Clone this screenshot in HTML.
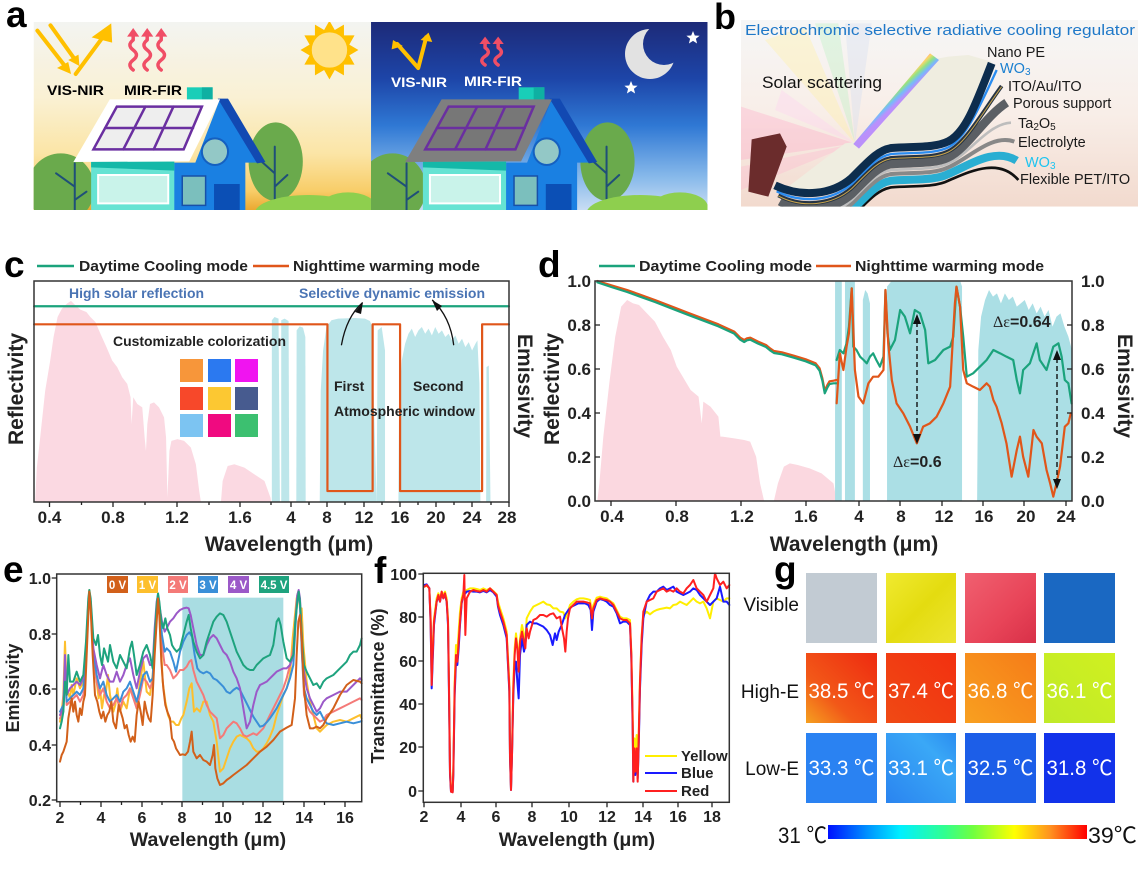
<!DOCTYPE html>
<html><head><meta charset="utf-8">
<style>
html,body{margin:0;padding:0;background:#fff;}
svg{display:block;font-family:"Liberation Sans",Arial,"Noto Sans CJK SC",sans-serif;}
.n{vector-effect:non-scaling-stroke;fill:none;stroke-linejoin:round;stroke-linecap:round;}
.s{vector-effect:non-scaling-stroke;}
.b{font-weight:bold;}
.tk{stroke:#222;stroke-width:1.3;fill:none;}
</style></head><body>
<svg xmlns="http://www.w3.org/2000/svg" width="1138" height="873" viewBox="0 0 1138 873">
<defs>
<linearGradient id="skyL" x1="0" y1="0" x2="0" y2="1">
<stop offset="0" stop-color="#f3f4f1"/><stop offset="0.4" stop-color="#faf1d4"/><stop offset="0.7" stop-color="#fbe5a6"/><stop offset="0.9" stop-color="#f8cd68"/><stop offset="1" stop-color="#eaa830"/></linearGradient>
<linearGradient id="skyR" x1="0" y1="0" x2="0" y2="1">
<stop offset="0" stop-color="#1d2a78"/><stop offset="0.3" stop-color="#1d45a8"/><stop offset="0.55" stop-color="#2f78d4"/><stop offset="0.82" stop-color="#86b8ea"/><stop offset="1" stop-color="#c8ddf3"/></linearGradient>
<linearGradient id="bgB" x1="0" y1="0" x2="0" y2="1">
<stop offset="0" stop-color="#f6f6f6"/><stop offset="0.5" stop-color="#f8eee8"/><stop offset="1" stop-color="#f2dace"/></linearGradient>
<linearGradient id="rb" gradientUnits="userSpaceOnUse" x1="585" y1="150" x2="618" y2="185">
<stop offset="0" stop-color="#ff6a80"/><stop offset="0.25" stop-color="#ffd050"/><stop offset="0.5" stop-color="#80e070"/><stop offset="0.75" stop-color="#60b0ff"/><stop offset="1" stop-color="#b080ff"/></linearGradient>
<linearGradient id="cbar" x1="0" y1="0" x2="1" y2="0">
<stop offset="0" stop-color="#0010ff"/><stop offset="0.15" stop-color="#0090ff"/><stop offset="0.28" stop-color="#00f0ff"/><stop offset="0.45" stop-color="#30ff90"/><stop offset="0.56" stop-color="#70ff40"/><stop offset="0.72" stop-color="#ffff00"/><stop offset="0.86" stop-color="#ff9020"/><stop offset="1" stop-color="#ff0000"/></linearGradient>
<linearGradient id="h1" x1="0" y1="1" x2="1" y2="0"><stop offset="0" stop-color="#f5a020"/><stop offset="0.35" stop-color="#f25818"/><stop offset="1" stop-color="#ee2a10"/></linearGradient>
<linearGradient id="h2" x1="0" y1="1" x2="1" y2="0"><stop offset="0" stop-color="#f04a14"/><stop offset="1" stop-color="#f23010"/></linearGradient>
<linearGradient id="h3" x1="0" y1="1" x2="1" y2="0"><stop offset="0" stop-color="#f8a020"/><stop offset="1" stop-color="#f67c18"/></linearGradient>
<linearGradient id="h4" x1="0" y1="1" x2="1" y2="0"><stop offset="0" stop-color="#c0ea28"/><stop offset="1" stop-color="#d0f020"/></linearGradient>
<linearGradient id="l2" x1="0" y1="1" x2="1" y2="0"><stop offset="0" stop-color="#2a84f0"/><stop offset="0.7" stop-color="#3aa8f6"/><stop offset="1" stop-color="#2a8cf0"/></linearGradient>
<linearGradient id="v2" x1="0" y1="0" x2="1" y2="1"><stop offset="0" stop-color="#f0ea30"/><stop offset="0.5" stop-color="#e4dc10"/><stop offset="1" stop-color="#ece430"/></linearGradient>
<linearGradient id="v3" x1="0" y1="0" x2="1" y2="1"><stop offset="0" stop-color="#f06070"/><stop offset="0.6" stop-color="#e84458"/><stop offset="1" stop-color="#d83048"/></linearGradient>
<mask id="moonm"><rect x="600" y="20" width="120" height="80" fill="#fff"/><circle cx="664" cy="44" r="21" fill="#000"/></mask>
</defs>
<rect width="1138" height="873" fill="#fff"/>

<!-- ============ PANEL A ============ -->
<text x="6" y="27" font-size="37" class="b">a</text>
<g transform="scale(0.4673,0.33333)">
<clipPath id="clA"><rect x="72" y="66" width="722" height="564"/></clipPath>
<clipPath id="clB"><rect x="794" y="66" width="720" height="564"/></clipPath>
<g clip-path="url(#clA)">
<rect x="72" y="66" width="722" height="564" fill="url(#skyL)"/>
<polygon points="767,150 747.5,166 758.7,194 736.1,193.8 736,226.2 716.4,209.9 705,238 693.6,209.9 674,226.2 673.9,193.8 651.3,194 662.5,166 643,150 662.5,134 651.3,106 673.9,106.2 674,73.8 693.6,90.1 705,62 716.4,90.1 736,73.8 736.1,106.2 758.7,106 747.5,134" fill="#ffc000"/>
<ellipse cx="705" cy="150" rx="40" ry="56" fill="#ffe28a" stroke="#ffc000" stroke-width="2" class="s"/>
<g id="sceneL">
<ellipse cx="130" cy="565" rx="72" ry="105" fill="#6aaa4c"/>
<path class="n" stroke="#1f4f78" stroke-width="2" d="M160,630 L160,490 M160,560 L120,520 M160,600 L185,575"/>
<ellipse cx="590" cy="485" rx="58" ry="118" fill="#6aaa4c"/>
<path class="n" stroke="#1f4f78" stroke-width="2" d="M588,630 L588,440 M588,520 L560,485 M588,560 L615,525"/>
<rect x="400" y="262" width="55" height="40" fill="#19ceb8"/>
<rect x="432" y="262" width="23" height="40" fill="#0fb0a2"/>
<polygon points="471,296 555,488 525,488 525,632 372,632 372,488 418,488" fill="#1a80e2"/>
<polygon points="466,296 488,296 568,486 550,490" fill="#1249b2"/>
<rect x="195" y="485" width="178" height="147" fill="#66e3d3"/>
<polygon points="195,485 373,485 373,512 195,502" fill="#14b8a8"/>
<rect x="210" y="525" width="150" height="85" fill="#c9f3ea" stroke="#fff" stroke-width="2" class="s"/>
<rect x="390" y="528" width="50" height="88" fill="#7bbfbd" stroke="#1850a8" stroke-width="1.5" class="s"/>
<rect x="458" y="552" width="55" height="80" fill="#0b4fb5"/>
<ellipse cx="460" cy="455" rx="28" ry="40" fill="#93c8c6" stroke="#1560c0" stroke-width="2" class="s"/>
<ellipse cx="660" cy="640" rx="115" ry="55" fill="#8ecf4e"/>
<ellipse cx="745" cy="622" rx="60" ry="45" fill="#8ecf4e"/>
</g>
<polygon points="235,298 471,298 405,484 157,486" fill="#ffffff"/>
<polygon points="250,320 432,320 393,448 200,448" fill="#eeeeee" stroke="#6a2fa0" stroke-width="2.5" class="s"/>
<path class="n" stroke="#6a2fa0" stroke-width="2.5" d="M311,320 L264,448 M371,320 L329,448 M225,384 L413,384"/>
<path class="n" stroke="#ffc000" stroke-width="4" d="M80,92 L140,200 M108,76 L160,178 M162,222 L222,108"/>
<polygon points="152,222 122,204 146,186" fill="#ffc000"/>
<polygon points="170,198 146,180 168,164" fill="#ffc000"/>
<polygon points="238,70 196,112 240,128" fill="#ffc000"/>
<path class="n" stroke="#f04e66" stroke-width="3.5" d="M285,210 q-14,-15 0,-30 q14,-15 0,-30 q-14,-15 0,-30 L285,105 M315,210 q-14,-15 0,-30 q14,-15 0,-30 q-14,-15 0,-30 L315,105 M345,210 q-14,-15 0,-30 q14,-15 0,-30 q-14,-15 0,-30 L345,105"/>
<polygon points="285,84 272,110 298,110" fill="#f04e66"/>
<polygon points="315,84 302,110 328,110" fill="#f04e66"/>
<polygon points="345,84 332,110 358,110" fill="#f04e66"/>
</g>
<g clip-path="url(#clB)">
<rect x="794" y="66" width="720" height="564" fill="url(#skyR)"/>
<use href="#sceneL" transform="translate(710,0)"/>
<polygon points="945,298 1181,298 1115,484 867,486" fill="#7f7f7f"/>
<polygon points="960,320 1142,320 1103,448 910,448" fill="#777777" stroke="#6a2fa0" stroke-width="2.5" class="s"/>
<path class="n" stroke="#6a2fa0" stroke-width="2.5" d="M1021,320 L974,448 M1081,320 L1039,448 M935,384 L1123,384"/>
<path class="n" stroke="#ffc000" stroke-width="4" d="M850,132 L895,204 L912,112"/>
<polygon points="841,120 838,148 862,138" fill="#ffc000"/>
<polygon points="917,98 900,120 925,126" fill="#ffc000"/>
<path class="n" stroke="#f04e66" stroke-width="3.5" d="M1038,195 q-14,-13 0,-26 q14,-13 0,-26 L1038,128 M1066,195 q-14,-13 0,-26 q14,-13 0,-26 L1066,128"/>
<polygon points="1038,110 1026,132 1050,132" fill="#f04e66"/>
<polygon points="1066,110 1054,132 1078,132" fill="#f04e66"/>
</g>
</g>
<text x="47" y="95" font-size="14" class="b" textLength="57" lengthAdjust="spacingAndGlyphs">VIS-NIR</text>
<text x="124" y="95" font-size="14" class="b" textLength="58" lengthAdjust="spacingAndGlyphs">MIR-FIR</text>
<text x="391" y="87" font-size="14" class="b" fill="#fff" textLength="56" lengthAdjust="spacingAndGlyphs">VIS-NIR</text>
<text x="464" y="86" font-size="14" class="b" fill="#fff" textLength="58" lengthAdjust="spacingAndGlyphs">MIR-FIR</text>
<circle cx="650" cy="54" r="25" fill="#e2e2e2" mask="url(#moonm)"/>
<polygon points="693,31 694.8,35.5 699.6,35.8 695.9,38.8 697.1,43.5 693,40.9 688.9,43.5 690.1,38.8 686.4,35.8 691.2,35.5" fill="#fff"/>
<polygon points="631,81 632.8,85.5 637.6,85.8 633.9,88.8 635.1,93.5 631,90.9 626.9,93.5 628.1,88.8 624.4,85.8 629.2,85.5" fill="#fff"/>

<!-- ============ PANEL B ============ -->
<text x="714" y="29" font-size="36" class="b">b</text>
<g transform="translate(735,0) scale(0.33333)">
<clipPath id="clC"><rect x="18" y="60" width="1200" height="560"/></clipPath>
<g clip-path="url(#clC)">
<rect x="18" y="60" width="1200" height="560" fill="url(#bgB)"/>
<g opacity="0.35">
<polygon points="360,430 18,320 18,480" fill="#ffa8c8"/>
<polygon points="360,430 18,500 18,570" fill="#ffb8d0"/>
<polygon points="360,430 90,120 210,80" fill="#fff0a0"/>
<polygon points="360,430 240,70 310,70" fill="#b8f0c0"/>
<polygon points="360,430 330,70 410,70" fill="#d0dcf0"/>
<polygon points="360,430 120,330 140,270" fill="#ffd0f0"/>
</g>
<polygon points="160,560 330,430 400,420 460,350 540,240 585,180 640,170 700,165 770,185 720,330 640,430 470,450 350,540 200,590" fill="#efede0"/>
<polygon points="355,432 585,160 612,180 372,446" fill="url(#rb)" opacity="0.85"/>
<polygon points="50,418 135,400 155,440 100,590 40,575" fill="#6b2c2c"/>
<g fill="none" stroke-linejoin="round">
<path stroke="#111" stroke-width="8" d="M155,674 C200,711 290,704 350,652 C400,602 430,567 470,562 C540,557 600,562 640,542 C700,517 790,470 850,540"/>
<path stroke="#2aaed2" stroke-width="24" d="M150,654 C200,691 290,684 350,632 C400,582 430,547 470,542 C540,537 600,542 640,522 C700,497 780,440 845,482"/>
<path stroke="#888" stroke-width="12" d="M145,634 C200,671 290,664 350,612 C400,562 430,527 470,522 C540,517 600,522 640,502 C700,477 770,400 838,425"/>
<path stroke="#bdbdbd" stroke-width="8" d="M140,622 C200,659 290,652 350,600 C400,550 430,515 470,510 C540,505 600,510 640,490 C700,465 760,370 828,368"/>
<path stroke="#5b5f64" stroke-width="26" d="M135,604 C200,641 290,634 350,582 C400,532 430,497 470,492 C540,487 600,492 640,472 C695,447 750,350 815,308"/>
<path stroke="#263444" stroke-width="12" d="M130,586 C200,623 290,616 350,564 C400,514 430,479 470,474 C540,469 600,474 640,454 C692,429 740,340 800,258"/>
<path stroke="#c8a24a" stroke-width="3" d="M130,588 C200,625 290,618 350,566 C400,516 430,481 470,476 C540,471 600,476 640,456 C692,431 740,342 800,260"/>
<path stroke="#2a8cf0" stroke-width="7" d="M125,574 C200,611 290,604 350,552 C400,502 430,467 470,462 C540,457 600,462 640,442 C690,417 730,330 785,210"/>
<path stroke="#0d2d4d" stroke-width="24" d="M120,556 C200,593 290,586 350,534 C400,484 430,449 470,444 C540,439 600,444 640,424 C690,399 720,320 770,190"/>
</g>
</g>
</g>
<text x="745" y="35" font-size="15" fill="#1f78c8" textLength="390" lengthAdjust="spacingAndGlyphs">Electrochromic selective radiative cooling regulator</text>
<text x="762" y="88" font-size="17" fill="#111" textLength="120" lengthAdjust="spacingAndGlyphs">Solar scattering</text>
<g font-size="14.5" fill="#1a1a1a">
<text x="987" y="57">Nano PE</text>
<text x="1000" y="73" fill="#1a7fd0">WO<tspan font-size="10" dy="2">3</tspan></text>
<text x="1008" y="91">ITO/Au/ITO</text>
<text x="1013" y="108">Porous support</text>
<text x="1018" y="128">Ta<tspan font-size="10" dy="2">2</tspan><tspan dy="-2">O</tspan><tspan font-size="10" dy="2">5</tspan></text>
<text x="1018" y="147">Electrolyte</text>
<text x="1025" y="167" fill="#1ec4f0">WO<tspan font-size="10" dy="2">3</tspan></text>
<text x="1020" y="184">Flexible PET/ITO</text>
</g>

<!-- ============ PANEL C ============ -->
<text x="4" y="277" font-size="37" class="b">c</text>
<line x1="37" y1="266" x2="74" y2="266" stroke="#1ba37c" stroke-width="2.5"/>
<text x="79" y="271" font-size="15" class="b" fill="#222" textLength="169" lengthAdjust="spacingAndGlyphs">Daytime Cooling mode</text>
<line x1="253" y1="266" x2="289" y2="266" stroke="#e0561a" stroke-width="2.5"/>
<text x="293" y="271" font-size="15" class="b" fill="#222" textLength="187" lengthAdjust="spacingAndGlyphs">Nighttime warming mode</text>
<g transform="translate(0,250) scale(0.3348)">
<path fill="#fbd9e2" d="M105,752 L110,650 120,560 135,420 150,330 160,260 172,200 185,175 200,160 212,152 225,165 240,178 258,185 270,200 285,215 300,250 318,290 335,330 350,350 365,380 380,400 390,440 393,520 398,440 410,460 425,470 432,560 436,600 440,520 448,460 460,455 475,470 490,500 496,560 500,740 506,600 512,570 530,565 550,570 570,590 585,640 595,720 600,752 L660,752 665,690 680,645 700,640 730,650 760,670 790,690 808,740 810,752 Z"/>
<g fill="#bde6ea">
<path d="M812,752 L812,210 L820,200 L832,205 L836,752 Z"/>
<path d="M840,752 L840,210 L850,205 L862,212 L864,752 Z"/>
<path d="M885,752 L886,240 L895,228 L905,232 L912,260 L913,752 Z"/>
<path d="M955,752 L958,420 L965,300 L975,230 L990,210 L1010,205 L1060,203 L1090,205 L1105,212 L1112,230 L1115,400 L1125,752 Z"/>
<path d="M1125,752 L1128,240 L1140,230 L1150,300 L1150,752 Z"/>
<path d="M1190,752 L1192,450 L1200,330 L1210,280 L1220,250 L1230,235 L1240,260 L1250,240 L1260,230 L1270,250 L1280,235 L1290,255 L1300,230 L1310,250 L1320,240 L1330,260 L1340,250 L1350,270 L1360,255 L1370,280 L1380,265 L1390,290 L1400,275 L1410,300 L1420,280 L1426,270 L1432,400 L1435,752 Z"/>
<path d="M1452,752 L1453,350 L1460,345 L1465,752 Z"/>
</g>
<path class="n" stroke="#1ba37c" stroke-width="2.2" d="M102,168 L1520,168"/>
<path class="n" stroke="#e0561a" stroke-width="2.2" d="M102,222 L978,222 L978,720 L1113,720 L1113,222 L1195,222 L1195,720 L1440,720 L1440,222 L1520,222"/>
<path class="n" stroke="#111" stroke-width="1.3" d="M1020,283 Q1035,200 1082,158 M1355,283 Q1345,200 1292,150"/>
</g>
<polygon points="363,302 355,312 361,314" fill="#111"/>
<polygon points="432,300 437,311 442,306" fill="#111"/>
<rect x="34" y="281" width="475" height="221" fill="none" stroke="#333" stroke-width="1.5"/>
<text x="69" y="298" font-size="14" class="b" fill="#4a74b4" textLength="135" lengthAdjust="spacingAndGlyphs">High solar reflection</text>
<text x="299" y="298" font-size="14" class="b" fill="#4a74b4" textLength="186" lengthAdjust="spacingAndGlyphs">Selective dynamic emission</text>
<text x="113" y="346" font-size="14" class="b" fill="#222" textLength="173" lengthAdjust="spacingAndGlyphs">Customizable colorization</text>
<text x="334" y="391" font-size="14" class="b" fill="#222">First</text>
<text x="413" y="391" font-size="14" class="b" fill="#222">Second</text>
<text x="334" y="416" font-size="14" class="b" fill="#222" textLength="141" lengthAdjust="spacingAndGlyphs">Atmospheric window</text>
<rect x="180" y="359" width="23" height="23" fill="#f7963a"/><rect x="208" y="359" width="23" height="23" fill="#2b79f0"/><rect x="235" y="359" width="23" height="23" fill="#f014f0"/>
<rect x="180" y="387" width="23" height="23" fill="#f7482a"/><rect x="208" y="387" width="23" height="23" fill="#fcc832"/><rect x="235" y="387" width="23" height="23" fill="#475b8f"/>
<rect x="180" y="414" width="23" height="23" fill="#7cc4f2"/><rect x="208" y="414" width="23" height="23" fill="#f00a80"/><rect x="235" y="414" width="23" height="23" fill="#3cc070"/>
<path class="tk" d="M49.5,502v5 M113,502v5 M177,502v5 M240,502v5 M291,502v5 M327,502v5 M364,502v5 M400,502v5 M436,502v5 M472,502v5 M509,502v5 M81.5,502v3 M145,502v3 M209,502v3 M271,502v3 M309,502v3 M345,502v3 M382,502v3 M418,502v3 M454,502v3 M491,502v3"/>
<g font-size="17" class="b" text-anchor="middle" fill="#222">
<text x="49.5" y="523">0.4</text><text x="113" y="523">0.8</text><text x="177" y="523">1.2</text><text x="240" y="523">1.6</text><text x="291" y="523">4</text><text x="327" y="523">8</text><text x="364" y="523">12</text><text x="400" y="523">16</text><text x="436" y="523">20</text><text x="472" y="523">24</text><text x="507" y="523">28</text>
</g>
<text x="289" y="551" font-size="21" class="b" text-anchor="middle" fill="#222">Wavelength (μm)</text>
<text transform="translate(23,389) rotate(-90)" font-size="21" class="b" text-anchor="middle" fill="#222">Reflectivity</text>
<text transform="translate(518,386) rotate(90)" font-size="21" class="b" text-anchor="middle" fill="#222">Emissivity</text>

<!-- ============ PANEL D ============ -->
<text x="538" y="277" font-size="37" class="b">d</text>
<line x1="599" y1="266" x2="635" y2="266" stroke="#1ba37c" stroke-width="2.5"/>
<text x="639" y="271" font-size="15" class="b" fill="#222" textLength="173" lengthAdjust="spacingAndGlyphs">Daytime Cooling mode</text>
<line x1="816" y1="266" x2="851" y2="266" stroke="#e0561a" stroke-width="2.5"/>
<text x="855" y="271" font-size="15" class="b" fill="#222" textLength="189" lengthAdjust="spacingAndGlyphs">Nighttime warming mode</text>
<g transform="translate(520,250) scale(0.3968,0.33333)">
<path fill="#fbd8e0" d="M195,752 L200,700 210,560 225,400 240,260 255,170 270,150 285,160 300,165 320,190 340,215 360,260 380,300 395,350 410,380 430,420 450,440 458,520 462,455 480,470 500,500 505,560 510,560 540,565 565,570 580,575 595,620 605,700 615,752 L640,752 650,700 665,650 680,640 700,645 730,655 760,670 790,700 798,752 Z"/>
<g fill="#abdfe5">
<path d="M794,752 L794,95 L811,95 L811,752 Z"/>
<path d="M819,752 L819,95 L844,95 L844,752 Z"/>
<path d="M864,752 L864,150 L870,120 L876,130 L882,160 L882,752 Z"/>
<path d="M925,752 L925,110 L935,95 L1110,95 L1114,110 L1114,752 Z"/>
<path d="M1152,752 L1155,300 L1162,200 L1172,150 L1182,120 L1192,140 L1202,130 L1212,160 L1222,130 L1232,150 L1242,140 L1252,170 L1262,160 L1272,150 L1282,180 L1292,160 L1302,190 L1312,170 L1322,200 L1332,180 L1342,230 L1352,200 L1362,190 L1372,230 L1382,260 L1391,300 L1391,752 Z"/>
</g>
<path class="n" stroke="#e0561a" stroke-width="2.2" d="M195,93 L230,106 270,120 300,133 340,150 390,173 420,187 460,205 500,223 540,245 555,263 565,270 572,265 580,263 600,275 620,285 630,295 640,303 660,307 690,317 720,328 745,340 755,355 762,385 768,422 775,404 780,394 790,392 798,390"/>
<path class="n" stroke="#1ba37c" stroke-width="2.2" d="M195,97 L230,111 270,126 300,139 340,156 390,179 420,193 460,211 500,229 540,251 555,269 565,276 572,271 580,269 600,281 620,291 630,301 640,309 660,313 690,323 720,334 745,346 755,362 762,392 768,430 775,412 780,402 790,400 798,400"/>
<path class="n" stroke="#1ba37c" stroke-width="2.2" d="M798,330 L806,300 815,310 823,280 829,230 836,115 840,290 848,300 857,320 866,330 874,340 882,320 890,310 898,330 907,350 916,320 921,120 926,250 932,300 945,270 958,180 970,200 983,250 995,180 1008,190 1021,240 1029,340 1046,330 1067,300 1084,290 1092,260 1100,110 1109,170 1117,260 1126,380 1142,370 1159,350 1176,330 1193,300 1210,310 1226,320 1243,330 1252,390 1260,430 1268,360 1285,340 1302,280 1310,330 1327,360 1344,290 1357,280 1365,320 1373,390 1382,400 1390,460"/>
<path class="n" stroke="#e0561a" stroke-width="2.2" d="M798,460 L806,310 815,360 823,290 829,250 836,115 844,360 853,440 865,460 878,400 890,380 903,380 916,360 921,120 928,280 937,390 949,460 966,490 983,530 1000,580 1016,530 1033,520 1050,500 1067,460 1084,410 1096,160 1100,110 1109,170 1117,360 1126,400 1142,410 1159,420 1176,400 1184,410 1193,450 1201,470 1214,520 1226,580 1239,680 1252,600 1260,560 1268,620 1281,680 1294,540 1302,560 1315,580 1327,660 1336,700 1344,740 1352,700 1361,650 1373,530 1382,520 1388,490"/>
</g>
<path d="M917,322 L917,437 M1057,358 L1057,482" stroke="#111" stroke-width="1.4" stroke-dasharray="5,3"/>
<polygon points="917,314 913,324 921,324" fill="#111"/><polygon points="917,444 913,434 921,434" fill="#111"/>
<polygon points="1057,350 1053,360 1061,360" fill="#111"/><polygon points="1057,489 1053,479 1061,479" fill="#111"/>
<text x="893" y="467" font-size="16" class="b" fill="#222"><tspan font-family="Liberation Serif,serif" font-weight="normal">Δε</tspan>=0.6</text>
<text x="993" y="327" font-size="16" class="b" fill="#222"><tspan font-family="Liberation Serif,serif" font-weight="normal">Δε</tspan>=0.64</text>
<rect x="595" y="281" width="477" height="220" fill="none" stroke="#333" stroke-width="1.5"/>
<path class="tk" d="M611,501v5 M676,501v5 M741,501v5 M806,501v5 M859,501v5 M900,501v5 M942,501v5 M983,501v5 M1024,501v5 M1066,501v5 M595,325h5 M595,369h5 M595,413h5 M595,457h5 M1072,325h-5 M1072,369h-5 M1072,413h-5 M1072,457h-5"/>
<g font-size="17" class="b" text-anchor="middle" fill="#222">
<text x="612" y="522">0.4</text><text x="677" y="522">0.8</text><text x="742" y="522">1.2</text><text x="806" y="522">1.6</text><text x="859" y="522">4</text><text x="901" y="522">8</text><text x="944" y="522">12</text><text x="984" y="522">16</text><text x="1026" y="522">20</text><text x="1066" y="522">24</text>
</g>
<g font-size="17" class="b" text-anchor="end" fill="#222">
<text x="591" y="287">1.0</text><text x="591" y="331">0.8</text><text x="591" y="375">0.6</text><text x="591" y="419">0.4</text><text x="591" y="463">0.2</text><text x="591" y="507">0.0</text>
</g>
<g font-size="17" class="b" fill="#222">
<text x="1081" y="287">1.0</text><text x="1081" y="331">0.8</text><text x="1081" y="375">0.6</text><text x="1081" y="419">0.4</text><text x="1081" y="463">0.2</text><text x="1081" y="507">0.0</text>
</g>
<text x="854" y="551" font-size="21" class="b" text-anchor="middle" fill="#222">Wavelength (μm)</text>
<text transform="translate(559,389) rotate(-90)" font-size="21" class="b" text-anchor="middle" fill="#222">Reflectivity</text>
<text transform="translate(1118,386) rotate(90)" font-size="21" class="b" text-anchor="middle" fill="#222">Emissivity</text>

<!-- ============ PANEL E ============ -->
<text x="3" y="582" font-size="37" class="b">e</text>
<g transform="translate(0,555) scale(0.33333)">
<rect x="547" y="128" width="303" height="612" fill="#a9dde2"/>
<path class="n" stroke="#fdbf2d" stroke-width="2" d="M180,500 L185,470 190,420 195,260 200,400 210,430 215,390 220,420 230,370 240,400 250,380 258,300 265,160 268,105 272,140 280,300 290,380 296,430 300,400 306,460 312,420 318,410 324,360 330,420 340,470 346,450 352,400 360,470 370,440 380,460 390,400 400,420 410,460 420,380 430,320 440,410 450,420 458,360 466,250 474,130 480,200 488,380 496,440 504,480 512,500 520,500 528,510 536,510 544,490 550,480 560,440 568,400 575,385 582,470 590,460 600,470 610,440 620,440 630,480 640,500 650,560 660,650 670,640 680,610 690,580 700,560 710,545 720,540 730,545 740,550 750,560 760,580 770,590 780,590 790,580 800,565 810,545 820,520 830,480 840,450 850,420 860,400 870,360 878,250 885,180 890,130 895,110 900,160 905,160 910,270 920,380 930,440 940,480 950,520 960,530 970,520 980,510 1000,500 1020,495 1040,500 1060,490 1080,480 1085,490"/>
<path class="n" stroke="#f47a78" stroke-width="2" d="M180,490 L190,470 195,340 200,450 210,440 220,430 230,420 240,440 250,420 258,320 265,160 268,120 272,150 280,310 290,380 300,420 310,400 320,440 330,460 340,450 350,430 360,460 370,430 380,420 390,400 400,430 410,460 420,420 430,370 440,380 450,400 458,380 464,270 470,170 474,130 478,170 486,270 494,330 500,330 510,345 520,370 530,360 540,345 550,345 560,335 568,320 574,315 580,345 590,380 600,400 610,420 620,450 630,470 640,480 650,490 660,550 670,540 680,520 690,510 700,500 710,505 720,520 730,540 740,545 750,540 760,535 770,540 780,530 790,520 800,500 810,480 820,460 830,440 840,420 850,400 860,370 870,330 880,280 886,200 892,120 896,110 900,150 906,300 912,420 920,450 930,470 940,480 950,490 960,500 970,495 980,480 1000,470 1020,460 1040,450 1060,440 1080,430 1085,435"/>
<path class="n" stroke="#3a8fd8" stroke-width="2" d="M180,470 L190,450 195,330 200,440 210,430 220,420 230,410 240,420 250,400 258,300 265,150 268,115 272,150 280,290 290,360 300,400 310,380 320,420 330,440 340,430 350,420 360,440 370,410 380,400 390,380 400,410 410,440 420,400 430,360 440,350 450,380 458,370 464,260 470,160 474,125 478,160 486,240 494,290 500,280 510,290 520,320 528,350 534,320 540,290 550,260 560,240 568,232 576,245 584,300 592,340 600,350 610,355 620,350 630,355 640,370 650,375 660,385 670,395 680,410 690,415 700,405 710,398 720,405 730,425 740,445 750,465 760,485 770,500 780,515 790,512 800,502 810,490 820,475 830,460 840,440 850,420 860,400 870,370 880,330 886,220 892,130 896,110 900,150 906,300 912,400 920,430 930,450 940,470 950,480 960,470 970,490 980,505 1000,510 1020,505 1040,500 1060,505 1080,500 1085,498"/>
<path class="n" stroke="#9b59c8" stroke-width="2" d="M180,480 L190,460 195,300 200,420 210,400 220,390 230,380 240,390 250,370 258,280 265,140 268,110 272,140 280,280 290,330 300,370 310,330 320,360 330,380 340,380 350,350 360,380 370,360 380,330 390,310 400,360 410,400 420,350 430,310 440,300 450,330 458,330 464,220 470,140 474,120 478,150 486,200 494,230 500,220 510,200 520,190 530,175 540,165 550,160 560,158 566,160 572,180 580,220 590,270 600,300 610,300 620,270 630,250 640,240 650,250 660,270 670,290 680,300 690,320 700,350 710,370 720,400 730,460 740,520 750,500 760,450 770,410 780,390 790,385 800,380 810,370 820,360 830,350 840,345 850,340 860,340 870,330 880,300 886,200 892,120 896,105 900,130 906,260 912,350 920,400 930,430 940,450 950,470 960,460 970,440 980,430 1000,420 1020,410 1040,410 1060,390 1080,370 1085,375"/>
<path class="n" stroke="#1ea37e" stroke-width="2" d="M180,520 L185,500 190,470 195,380 200,420 205,300 210,380 220,380 230,350 240,380 250,360 258,260 265,130 268,105 272,130 280,250 288,270 294,240 300,300 306,330 312,280 318,300 324,320 330,270 340,320 350,340 360,300 370,320 380,340 390,280 396,260 402,300 410,360 420,330 430,290 440,270 450,300 458,340 464,250 470,150 474,115 478,140 484,200 490,220 496,190 502,220 510,240 516,270 522,280 530,290 540,280 550,240 560,200 566,180 572,220 580,260 590,290 600,310 610,300 620,260 630,230 640,200 650,185 660,175 670,180 680,200 690,230 700,260 710,290 720,310 730,330 740,340 750,345 760,345 770,330 780,320 790,310 800,305 810,300 820,270 830,200 836,190 842,210 850,260 860,310 870,320 880,300 886,200 892,140 896,110 900,140 906,250 912,330 920,350 930,370 940,390 950,385 960,400 970,380 980,370 1000,360 1020,340 1040,320 1050,300 1060,290 1070,290 1080,270 1085,250"/>
<path class="n" stroke="#d2601a" stroke-width="2" d="M180,620 L185,600 190,590 200,560 205,490 210,460 215,430 220,470 225,440 230,480 235,500 240,460 245,480 250,440 255,420 260,300 265,180 268,110 272,160 278,300 285,420 292,440 298,470 304,490 310,470 316,500 322,480 328,470 334,440 340,500 348,520 356,450 362,470 368,490 374,520 380,510 386,540 392,560 398,545 404,560 410,480 416,440 422,470 428,510 434,440 440,470 446,490 452,500 458,420 464,300 470,200 474,130 478,180 484,320 490,400 496,450 502,470 510,490 516,550 522,560 528,580 534,590 540,600 548,598 556,600 564,590 570,560 575,530 580,590 590,610 600,600 610,615 620,620 630,630 638,600 642,570 646,640 652,670 660,690 670,685 680,675 690,668 700,660 720,645 740,630 760,610 780,590 800,575 820,555 840,530 860,518 875,510 885,430 890,300 895,200 900,180 905,250 912,400 920,480 930,520 940,520 950,515 960,520 970,510 980,490 1000,460 1020,420 1040,390 1060,375 1080,380 1085,385"/>
</g>
<rect x="107" y="576" width="21" height="17" fill="#d2601a"/>
<rect x="137" y="576" width="21" height="17" fill="#fdbf2d"/>
<rect x="168" y="576" width="20" height="17" fill="#f47a78"/>
<rect x="198" y="576" width="20" height="17" fill="#3a8fd8"/>
<rect x="228" y="576" width="21" height="17" fill="#9b59c8"/>
<rect x="259" y="576" width="30" height="17" fill="#1ea37e"/>
<g font-size="11.5" class="b" fill="#fff" text-anchor="middle">
<text x="117.5" y="589">0 V</text><text x="147.5" y="589">1 V</text><text x="178" y="589">2 V</text><text x="208" y="589">3 V</text><text x="238.5" y="589">4 V</text><text x="274" y="589">4.5 V</text>
</g>
<rect x="56.7" y="574" width="305" height="227.7" fill="none" stroke="#333" stroke-width="1.5"/>
<path class="tk" d="M60,802v5 M101,802v5 M142,802v5 M182,802v5 M223,802v5 M263,802v5 M304,802v5 M345,802v5 M80.5,802v3 M121.5,802v3 M162,802v3 M202.5,802v3 M243,802v3 M283.5,802v3 M324.5,802v3 M56.7,578h-5 M56.7,634h-5 M56.7,689h-5 M56.7,745h-5 M56.7,800h-5"/>
<g font-size="16" class="b" text-anchor="end" fill="#222">
<text x="51" y="584">1.0</text><text x="51" y="640">0.8</text><text x="51" y="695">0.6</text><text x="51" y="751">0.4</text><text x="51" y="806">0.2</text>
</g>
<g font-size="16" class="b" text-anchor="middle" fill="#222">
<text x="60" y="823">2</text><text x="101" y="823">4</text><text x="142" y="823">6</text><text x="182" y="823">8</text><text x="223" y="823">10</text><text x="263" y="823">12</text><text x="304" y="823">14</text><text x="345" y="823">16</text>
</g>
<text x="208" y="846" font-size="19.5" class="b" text-anchor="middle" fill="#222">Wavelength (μm)</text>
<text transform="translate(19,688) rotate(-90)" font-size="18" class="b" text-anchor="middle" fill="#222">Emissivity</text>

<!-- ============ PANEL F ============ -->
<text x="374" y="583" font-size="37" class="b">f</text>
<g transform="translate(370,555) scale(0.33333)">
<path class="n" stroke="#ffee00" stroke-width="2" d="M163,95 L170,92 178,100 182,190 185,330 188,280 192,190 196,160 200,130 205,115 210,130 215,110 220,120 225,110 230,130 234,190 237,380 240,640 243,705 248,707 250,640 254,380 258,270 262,290 266,230 270,170 275,130 280,110 286,110 290,105 300,100 310,100 320,102 330,105 340,100 350,105 360,100 370,108 380,118 384,140 390,160 400,190 410,230 418,380 420,590 423,700 426,590 430,380 434,280 438,235 442,270 446,330 450,250 456,210 462,240 466,260 470,190 480,170 490,155 500,150 510,145 520,140 530,148 540,150 550,160 560,160 570,170 580,172 586,190 592,175 600,150 610,140 620,133 630,130 640,130 650,132 660,135 666,175 670,150 680,128 690,125 700,128 710,130 720,138 730,145 740,165 750,185 760,190 770,190 780,195 784,290 788,480 790,620 793,550 796,600 800,540 803,600 806,540 810,370 815,240 820,180 830,170 840,178 850,170 860,165 870,162 880,160 890,158 900,160 910,150 920,148 930,140 940,145 950,150 960,140 970,130 980,140 990,145 1000,140 1010,160 1020,190 1030,140 1040,130 1050,135 1060,140 1070,130 1078,130"/>
<path class="n" stroke="#1a1aff" stroke-width="2" d="M163,90 L170,88 178,100 182,210 185,400 188,320 192,210 196,175 200,140 205,125 210,140 215,115 220,130 225,120 230,140 234,210 237,420 240,660 243,710 248,710 250,660 254,420 258,320 262,330 266,280 270,210 275,145 280,120 286,115 290,110 300,108 310,110 320,110 330,112 340,108 350,112 360,105 370,112 380,125 384,155 390,180 400,210 410,250 418,410 420,610 423,705 426,600 430,420 434,330 438,320 442,380 446,430 450,300 456,250 462,290 466,270 470,210 480,200 490,205 500,205 510,210 520,215 530,225 540,240 548,270 555,235 560,255 566,230 575,210 585,180 595,165 605,155 615,150 625,145 635,145 645,145 655,150 662,165 666,225 670,170 680,140 690,132 700,135 710,140 720,150 730,155 740,175 750,205 760,200 770,200 780,210 784,310 788,520 790,680 793,600 796,660 800,600 803,670 806,580 810,400 815,270 820,190 830,140 840,120 850,110 860,110 870,100 880,95 890,105 900,100 910,95 920,110 930,115 940,120 950,115 960,110 970,100 980,105 990,120 1000,130 1010,140 1020,150 1030,140 1040,130 1050,95 1060,140 1070,140 1078,150"/>
<path class="n" stroke="#ff2020" stroke-width="2" d="M163,95 L170,90 178,100 182,200 185,390 188,300 192,200 196,170 200,140 205,120 210,140 215,110 220,130 225,115 230,140 234,200 237,400 240,650 243,710 248,712 250,650 254,400 258,300 262,320 266,260 270,200 275,140 280,120 283,60 286,240 290,130 300,110 310,105 320,108 330,110 340,105 350,110 360,100 370,110 380,120 384,150 390,170 400,200 410,240 418,400 420,600 423,705 426,600 430,400 434,300 438,250 442,280 446,350 450,260 456,230 462,260 466,280 470,220 476,250 480,230 486,210 490,195 500,190 510,180 520,180 530,185 540,178 550,175 560,190 570,185 576,220 582,250 586,290 590,230 594,190 600,160 610,150 620,140 630,140 640,140 650,142 660,145 666,190 670,160 680,135 690,130 700,133 710,135 720,140 730,150 740,170 750,190 760,195 770,195 780,205 784,300 788,500 790,680 793,580 796,650 800,580 803,680 806,560 810,380 815,250 820,170 830,140 840,135 850,130 860,110 870,105 880,100 890,110 900,105 910,110 920,100 930,110 940,115 950,100 960,90 970,75 980,100 990,110 1000,120 1010,140 1020,120 1030,100 1035,55 1040,70 1050,90 1060,80 1070,100 1078,90"/>
</g>
<line x1="645" y1="756" x2="677" y2="756" stroke="#ffee00" stroke-width="2"/>
<line x1="645" y1="773" x2="677" y2="773" stroke="#1a1aff" stroke-width="2"/>
<line x1="645" y1="791" x2="677" y2="791" stroke="#ff2020" stroke-width="2"/>
<g font-size="15" class="b" fill="#222">
<text x="681" y="761">Yellow</text><text x="681" y="778">Blue</text><text x="681" y="796">Red</text>
</g>
<rect x="423.3" y="573.3" width="306" height="229" fill="none" stroke="#333" stroke-width="1.5"/>
<path class="tk" d="M424,802.3v5 M461,802.3v5 M496,802.3v5 M532,802.3v5 M569,802.3v5 M607,802.3v5 M643,802.3v5 M678,802.3v5 M712,802.3v5 M423.3,574h-5 M423.3,617h-5 M423.3,661h-5 M423.3,704h-5 M423.3,747h-5 M423.3,791h-5"/>
<g font-size="16" class="b" text-anchor="end" fill="#222">
<text x="417" y="580">100</text><text x="417" y="623">80</text><text x="417" y="667">60</text><text x="417" y="710">40</text><text x="417" y="753">20</text><text x="417" y="797">0</text>
</g>
<g font-size="16" class="b" text-anchor="middle" fill="#222">
<text x="424" y="822">2</text><text x="461" y="822">4</text><text x="496" y="822">6</text><text x="532" y="822">8</text><text x="569" y="822">10</text><text x="607" y="822">12</text><text x="643" y="822">14</text><text x="678" y="822">16</text><text x="712" y="822">18</text>
</g>
<text x="577" y="846" font-size="19.5" class="b" text-anchor="middle" fill="#222">Wavelength (μm)</text>
<text transform="translate(384,686) rotate(-90)" font-size="18" class="b" text-anchor="middle" fill="#222">Transmittance (%)</text>

<!-- ============ PANEL G ============ -->
<text x="774" y="582" font-size="37" class="b">g</text>
<rect x="806" y="573" width="71" height="70" fill="#c2cbd3"/>
<rect x="886" y="573" width="70" height="70" fill="url(#v2)"/>
<rect x="965" y="573" width="71" height="70" fill="url(#v3)"/>
<rect x="1044" y="573" width="71" height="70" fill="#1a68c2"/>
<rect x="806" y="653" width="71" height="70" fill="url(#h1)"/>
<rect x="886" y="653" width="70" height="70" fill="url(#h2)"/>
<rect x="965" y="653" width="71" height="70" fill="url(#h3)"/>
<rect x="1044" y="653" width="71" height="70" fill="url(#h4)"/>
<rect x="806" y="733" width="71" height="70" fill="#2a82f2"/>
<rect x="886" y="733" width="70" height="70" fill="url(#l2)"/>
<rect x="965" y="733" width="71" height="70" fill="#1c5ee8"/>
<rect x="1044" y="733" width="71" height="70" fill="#1232ea"/>
<g font-size="19" fill="#111" text-anchor="end">
<text x="799" y="611">Visible</text><text x="799" y="698">High-E</text><text x="799" y="775">Low-E</text>
</g>
<g font-size="21" fill="#fff" text-anchor="middle">
<text x="841.5" y="698" textLength="66" lengthAdjust="spacingAndGlyphs">38.5 ℃</text>
<text x="921" y="698" textLength="66" lengthAdjust="spacingAndGlyphs">37.4 ℃</text>
<text x="1000.5" y="698" textLength="66" lengthAdjust="spacingAndGlyphs">36.8 ℃</text>
<text x="1079.5" y="698" textLength="66" lengthAdjust="spacingAndGlyphs">36.1 ℃</text>
<text x="841.5" y="775" textLength="66" lengthAdjust="spacingAndGlyphs">33.3 ℃</text>
<text x="921" y="775" textLength="66" lengthAdjust="spacingAndGlyphs">33.1 ℃</text>
<text x="1000.5" y="775" textLength="66" lengthAdjust="spacingAndGlyphs">32.5 ℃</text>
<text x="1079.5" y="775" textLength="66" lengthAdjust="spacingAndGlyphs">31.8 ℃</text>
</g>
<rect x="828" y="825" width="259" height="14" fill="url(#cbar)"/>
<text x="778" y="843" font-size="22" fill="#111" textLength="49" lengthAdjust="spacingAndGlyphs">31 ℃</text>
<text x="1088" y="843" font-size="22" fill="#111" textLength="49" lengthAdjust="spacingAndGlyphs">39℃</text>
</svg>
</body></html>
